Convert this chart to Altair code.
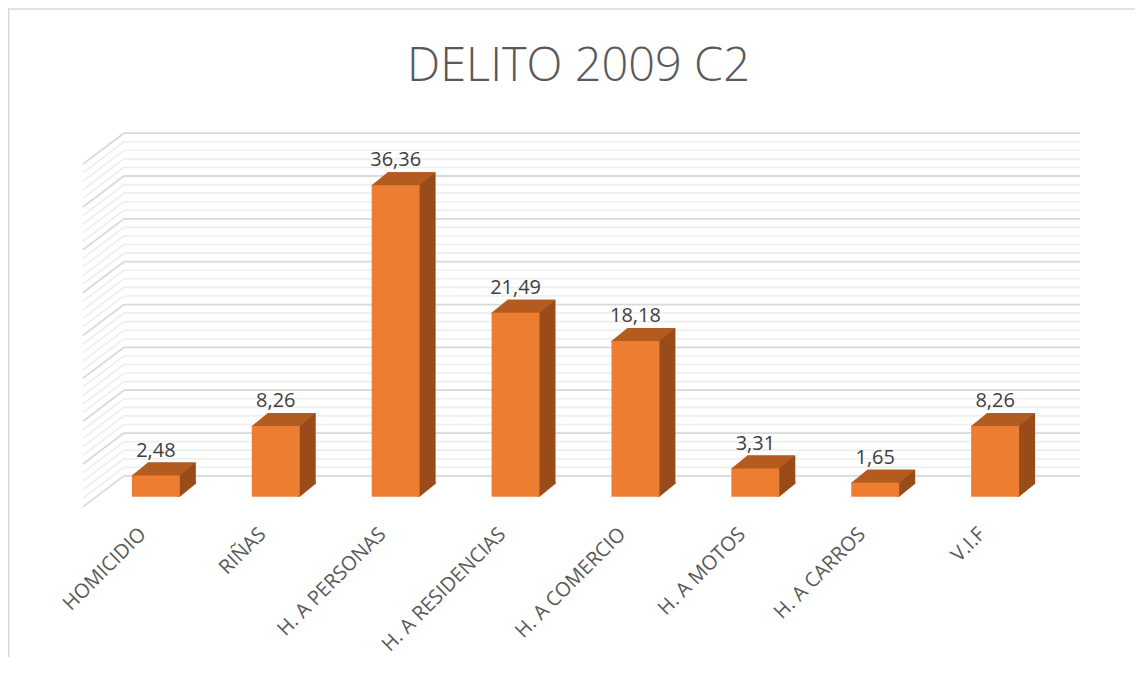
import altair as alt
import pandas as pd

# ---- data ----
categories = ["HOMICIDIO", "RIÑAS", "H. A PERSONAS", "H. A RESIDENCIAS",
              "H. A COMERCIO", "H. A MOTOS", "H. A CARROS", "V.I.F"]
values = [2.48, 8.26, 36.36, 21.49, 18.18, 3.31, 1.65, 8.26]
grid_values = list(range(0, 41))   # back-wall gridlines (major every 5)
title_text = ["DELITO 2009 C2"]

bars = pd.DataFrame({"cat": categories, "v": values})
grid = pd.DataFrame({"g": grid_values})
titles = pd.DataFrame({"t": title_text})

# ---- styling ----
W, H = 960, 343
BAR_W = 48
DX, DY = 16, 13           # 3D depth offsets (px)
WALL_DY = -21              # back wall vertical offset
FRONT = "#ED7D31"
TOP = "#B45C20"
SIDE = "#9A4B1A"
MAJOR = "#D9D9D9"
MINOR = "#EEEEEE"
FONT = "Open Sans"

yscale = alt.Scale(domain=[0, 40], nice=False, zero=True)
xscale = alt.Scale(domain=categories)

x_enc = alt.X("cat:N", sort=categories, scale=xscale,
              axis=alt.Axis(title=None, labelAngle=-45, labelAlign="right",
                            labelBaseline="middle", labelPadding=34,
                            labelOffset=-13, labelFontSize=20, labelFont=FONT,
                            labelColor="#595959", domain=False, ticks=False,
                            grid=False))

base_grid = alt.Chart(grid)

minor_rules = base_grid.transform_filter("datum.g % 5 != 0").mark_rule(
    color=MINOR, strokeWidth=1.6, yOffset=WALL_DY).encode(
    y=alt.Y("g:Q", scale=yscale, axis=None),
    x=alt.value(28), x2=alt.value(985))
minor_diag = base_grid.transform_filter("datum.g % 5 != 0").mark_rule(
    color=MINOR, strokeWidth=1.6, yOffset=WALL_DY, y2Offset=10).encode(
    y=alt.Y("g:Q", scale=yscale, axis=None), y2="g:Q",
    x=alt.value(28), x2=alt.value(-13))
major_rules = base_grid.transform_filter("datum.g % 5 == 0").mark_rule(
    color=MAJOR, strokeWidth=1.8, yOffset=WALL_DY).encode(
    y=alt.Y("g:Q", scale=yscale, axis=None),
    x=alt.value(28), x2=alt.value(985))
major_diag = base_grid.transform_filter("datum.g % 5 == 0").mark_rule(
    color=MAJOR, strokeWidth=1.8, yOffset=WALL_DY, y2Offset=10).encode(
    y=alt.Y("g:Q", scale=yscale, axis=None), y2="g:Q",
    x=alt.value(28), x2=alt.value(-13))

base = alt.Chart(bars).transform_calculate(zero="0")

side = base.mark_bar(width=BAR_W, color=SIDE, xOffset=DX, yOffset=-DY,
                     y2Offset=-DY).encode(
    x=x_enc, y=alt.Y("v:Q", scale=yscale, axis=None), y2="zero:Q")

tri_path = (f"M{BAR_W/2-2},{-DY-2} L{BAR_W/2-2},0 L{BAR_W/2},0 "
            f"L{BAR_W/2+DX},{-DY} L{BAR_W/2+DX},{-DY-2} Z")
bottom_tri = base.mark_point(shape=tri_path, size=4, filled=True, color=SIDE,
                             opacity=1, strokeWidth=0).encode(
    x=x_enc, y=alt.Y("zero:Q", scale=yscale, axis=None))

top_path = (f"M{-BAR_W/2},1 L{BAR_W/2},1 L{BAR_W/2},0 L{BAR_W/2+DX},{-DY} "
            f"L{-BAR_W/2+DX},{-DY} L{-BAR_W/2},0 Z")
top = base.mark_point(shape=top_path, size=4, filled=True, color=TOP,
                      opacity=1, strokeWidth=0).encode(
    x=x_enc, y=alt.Y("v:Q", scale=yscale, axis=None))

front = base.mark_bar(width=BAR_W, color=FRONT).encode(
    x=x_enc, y=alt.Y("v:Q", scale=yscale, axis=None), y2="zero:Q")

labels = base.transform_calculate(
    lab="replace(format(datum.v, '.2f'), '.', ',')").mark_text(
    font=FONT, fontSize=20, color="#404040", baseline="alphabetic",
    align="center", dy=-19).encode(
    x=x_enc, y=alt.Y("v:Q", scale=yscale, axis=None), text="lab:N")

title = alt.Chart(titles).mark_text(
    font=FONT, fontSize=47, fontWeight=300, color="#595959",
    baseline="alphabetic", align="center").encode(
    text="t:N", x=alt.value(483), y=alt.value(-73))

border_left = alt.Chart(titles).mark_rule(color="#D9D9D9", strokeWidth=1.5).encode(
    x=alt.value(-87.3), y=alt.value(-146), y2=alt.value(H + 200))
border_top = alt.Chart(titles).mark_rule(color="#D9D9D9", strokeWidth=1.5).encode(
    x=alt.value(-88), x2=alt.value(W + 100), y=alt.value(-145.3))

chart = alt.layer(
    minor_rules, minor_diag, major_rules, major_diag,
    side, bottom_tri, top, front, labels, title, border_left, border_top
).properties(
    width=W, height=H,
    background="white",
    autosize=alt.AutoSizeParams(type="none"),
    padding={"left": 88, "top": 146, "right": 80, "bottom": 160},
).configure_view(stroke="transparent", strokeWidth=0)

chart.save("out.html", embed_options={"renderer": "svg", "actions": False})
